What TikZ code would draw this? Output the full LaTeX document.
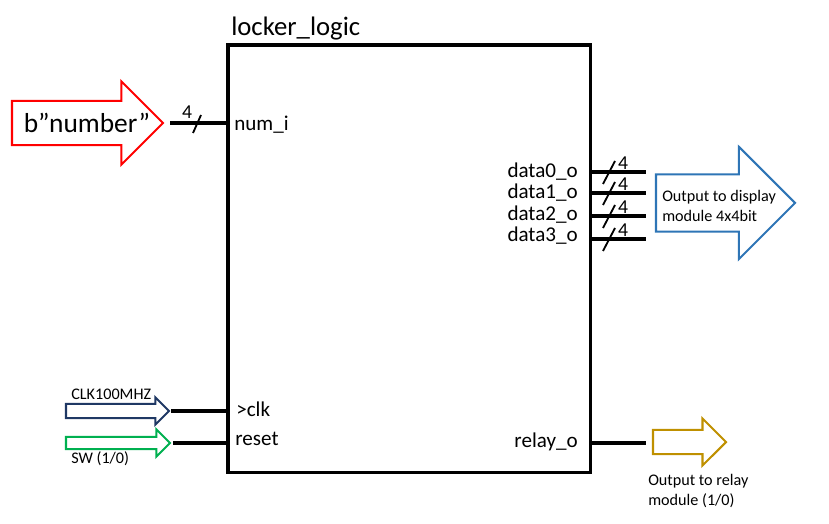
\documentclass[tikz,border=0pt]{standalone}
\usepackage{fontspec}
\setmainfont{Carlito}
\usepackage{tikz}
\usetikzlibrary{shapes.arrows}

\definecolor{numred}{RGB}{255,0,0}
\definecolor{dispblue}{RGB}{46,117,182}
\definecolor{clknavy}{RGB}{31,56,100}
\definecolor{swgreen}{RGB}{0,176,80}
\definecolor{relaygold}{RGB}{191,144,0}

\begin{document}
\begin{tikzpicture}[x=0.025cm, y=-0.025cm,
    sig/.style={line width=2.2pt},
    buscut/.style={line width=1.3pt},
    bigarrow/.style={single arrow, draw, line width=1.5pt, inner xsep=0pt, outer sep=0pt, anchor=tip},
    portlabel/.style={font=\fontsize{15}{18}\selectfont, inner sep=0pt},
    smalltext/.style={font=\fontsize{11.5}{14}\selectfont, inner sep=0pt, align=left},
    buswidth/.style={font=\fontsize{14}{16}\selectfont, inner sep=0pt}]
    \useasboundingbox (0,0) rectangle (829,524);

        % Block
        \node[draw, line width=2.2pt, anchor=north west, inner sep=0pt, outer sep=0pt,
              minimum width=9.05cm, minimum height=10.675cm] (logic) at (228,45) {};
        \node[anchor=base west, inner sep=0pt, font=\fontsize{19}{23}\selectfont] (title) at (231,36) {locker\_logic};

        % Number input
        \node[bigarrow, draw=numred, minimum height=3.775cm, inner ysep=0.525cm,
              single arrow head extend=0.4875cm] (number) at (163,123) {};
        \node[inner sep=0pt, font=\fontsize{19.5}{23}\selectfont] (numtext) at (87,123) {b”number”};
        \coordinate (numend) at (170,123);
        \coordinate (numport) at (logic.west |- numend);
        \draw[sig] (numend) -- (numport);
        \draw[buscut] (197,123) ++(-4,10) -- ++(8,-18);
        \node[buswidth] (numw) at (187,112) {4};
        \node[portlabel, anchor=base west] (numlabel) at (234,131) {num\_i};

        % Display outputs
        \foreach \i/\y/\ly in {0/172/178, 1/193/199, 2/216/221, 3/239/242} {
            \node[portlabel, anchor=base east] (dlabel\i) at (578,\ly) {data\i\_o};
            \coordinate (dend\i) at (646,\y);
            \draw[sig] (logic.east |- dend\i) -- (dend\i);
            \draw[buscut] (609,\y) ++(-6,12) -- ++(12,-23);
            \node[buswidth] (dw\i) at (623,\y-9) {4};
        }
        \node[bigarrow, draw=dispblue, minimum height=3.475cm, inner ysep=0.6875cm,
              single arrow head extend=0.6875cm] (display) at (795,203) {};
        \node[smalltext, anchor=west] (disptext) at (662,206) {Output to display\\module 4x4bit};

        % Clock
        \node[bigarrow, draw=clknavy, minimum height=2.575cm, inner ysep=0.15cm,
              single arrow head extend=0.1625cm] (clk) at (169,411) {};
        \node[smalltext, anchor=base west] (clktext) at (71,400) {CLK100MHZ};
        \coordinate (clkend) at (171,411);
        \draw[sig] (clkend) -- (logic.west |- clkend);
        \node[portlabel, anchor=base west] (clklabel) at (236,416) {>clk};

        % Reset
        \node[bigarrow, draw=swgreen, minimum height=2.6cm, inner ysep=0.125cm,
              single arrow head extend=0.1875cm] (sw) at (170,443) {};
        \node[smalltext, anchor=base west] (swtext) at (71,463) {SW (1/0)};
        \coordinate (rstend) at (173,443);
        \draw[sig] (rstend) -- (logic.west |- rstend);
        \node[portlabel, anchor=base west] (rstlabel) at (235,445) {reset};

        % Relay output
        \node[portlabel, anchor=base east] (relaylabel) at (578,447) {relay\_o};
        \coordinate (relayend) at (646,443);
        \draw[sig] (logic.east |- relayend) -- (relayend);
        \node[bigarrow, draw=relaygold, minimum height=1.825cm, inner ysep=0.275cm,
              single arrow head extend=0.2875cm] (relay) at (726,442) {};
        \node[smalltext, anchor=west] (relaytext) at (648,491) {Output to relay\\module (1/0)};
    \end{tikzpicture}
\end{document}
